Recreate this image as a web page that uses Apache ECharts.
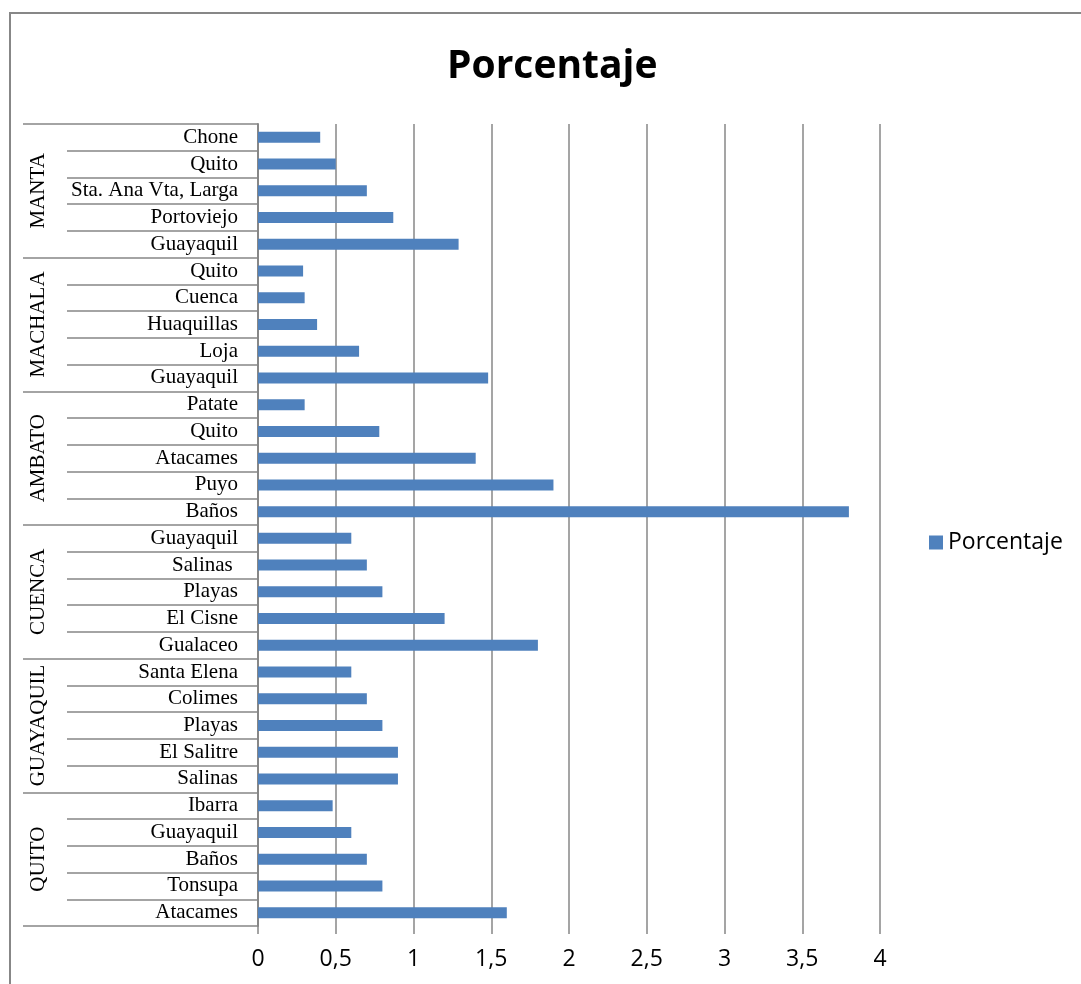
<!DOCTYPE html>
<html>
<head>
<meta charset="utf-8">
<script src="https://cdn.jsdelivr.net/npm/echarts@6/dist/echarts.min.js"></script>
<style>
  html, body { margin: 0; padding: 0; background: #fff; }
  #chart { width: 1081px; height: 984px; }
</style>
</head>
<body>
<div id="chart"></div>
<script>
// Categories listed bottom-to-top
const places = [
  'Atacames', 'Tonsupa', 'Baños', 'Guayaquil', 'Ibarra',
  'Salinas', 'El Salitre', 'Playas', 'Colimes', 'Santa Elena',
  'Gualaceo', 'El Cisne', 'Playas', 'Salinas ', 'Guayaquil',
  'Baños', 'Puyo', 'Atacames', 'Quito', 'Patate',
  'Guayaquil', 'Loja', 'Huaquillas', 'Cuenca', 'Quito',
  'Guayaquil', 'Portoviejo', 'Sta. Ana Vta, Larga', 'Quito', 'Chone'
];
const groups = ['QUITO', 'GUAYAQUIL', 'CUENCA', 'AMBATO', 'MACHALA', 'MANTA'];
const porcentaje = [
  1.6, 0.8, 0.7, 0.6, 0.48,
  0.9, 0.9, 0.8, 0.7, 0.6,
  1.8, 1.2, 0.8, 0.7, 0.6,
  3.8, 1.9, 1.4, 0.78, 0.3,
  1.48, 0.65, 0.38, 0.3, 0.29,
  1.29, 0.87, 0.7, 0.5, 0.4
];
const xTicks = { min: 0, max: 4, interval: 0.5 };
const seriesName = 'Porcentaje';
const titleText = 'Porcentaje';

const gray = '#878787';
const chart = echarts.init(document.getElementById('chart'));
chart.setOption({
  backgroundColor: '#ffffff',
  animation: false,
  title: {
    text: titleText,
    left: 447,
    top: 47,
    padding: 0,
    textStyle: { fontFamily: 'Open Sans', fontWeight: 'bold', fontSize: 39, color: '#000' }
  },
  legend: {
    data: [seriesName],
    left: 929,
    top: 531,
    padding: 0,
    icon: 'rect',
    itemWidth: 14,
    itemHeight: 14,
    itemStyle: { borderWidth: 0 },
    textStyle: { fontFamily: 'Open Sans', fontSize: 23, color: '#000' }
  },
  graphic: [{
    type: 'polyline',
    silent: true,
    shape: { points: [[10, 990], [10, 13], [1090, 13]] },
    style: { stroke: gray, lineWidth: 2, fill: null }
  }],
  grid: { left: 258, right: 201, top: 124, bottom: 58, containLabel: false },
  xAxis: {
    type: 'value',
    min: xTicks.min,
    max: xTicks.max,
    interval: xTicks.interval,
    axisLine: { show: false },
    axisTick: { show: true, length: 8, lineStyle: { color: gray, width: 1.5 } },
    splitLine: { show: true, lineStyle: { color: gray, width: 1.5 } },
    axisLabel: {
      margin: 22,
      fontFamily: 'Open Sans',
      fontSize: 23,
      color: '#000',
      formatter: v => String(v).replace('.', ',')
    }
  },
  yAxis: [{
    type: 'category',
    data: places,
    position: 'left',
    boundaryGap: true,
    axisLine: { show: true, lineStyle: { color: gray, width: 2 } },
    axisTick: { show: true, interval: 0, length: 191, lineStyle: { color: gray, width: 1.5 } },
    axisLabel: {
      interval: 0,
      margin: 20,
      padding: [3, 0, 0, 0],
      fontFamily: 'Liberation Serif',
      fontSize: 21,
      color: '#000'
    },
    splitLine: { show: false }
  }, {
    type: 'category',
    data: groups,
    position: 'left',
    offset: 0,
    boundaryGap: true,
    axisLine: { show: false },
    axisTick: { show: true, interval: 0, length: 235, lineStyle: { color: gray, width: 1.5 } },
    axisLabel: {
      interval: 0,
      rotate: 90,
      margin: 220,
      align: 'center',
      verticalAlign: 'middle',
      fontFamily: 'Liberation Serif',
      fontSize: 21,
      color: '#000'
    },
    splitLine: { show: false }
  }],
  series: [{
    name: seriesName,
    type: 'bar',
    yAxisIndex: 0,
    data: porcentaje,
    barWidth: 11,
    itemStyle: { color: '#4F81BD' }
  }]
});
</script>
</body>
</html>
